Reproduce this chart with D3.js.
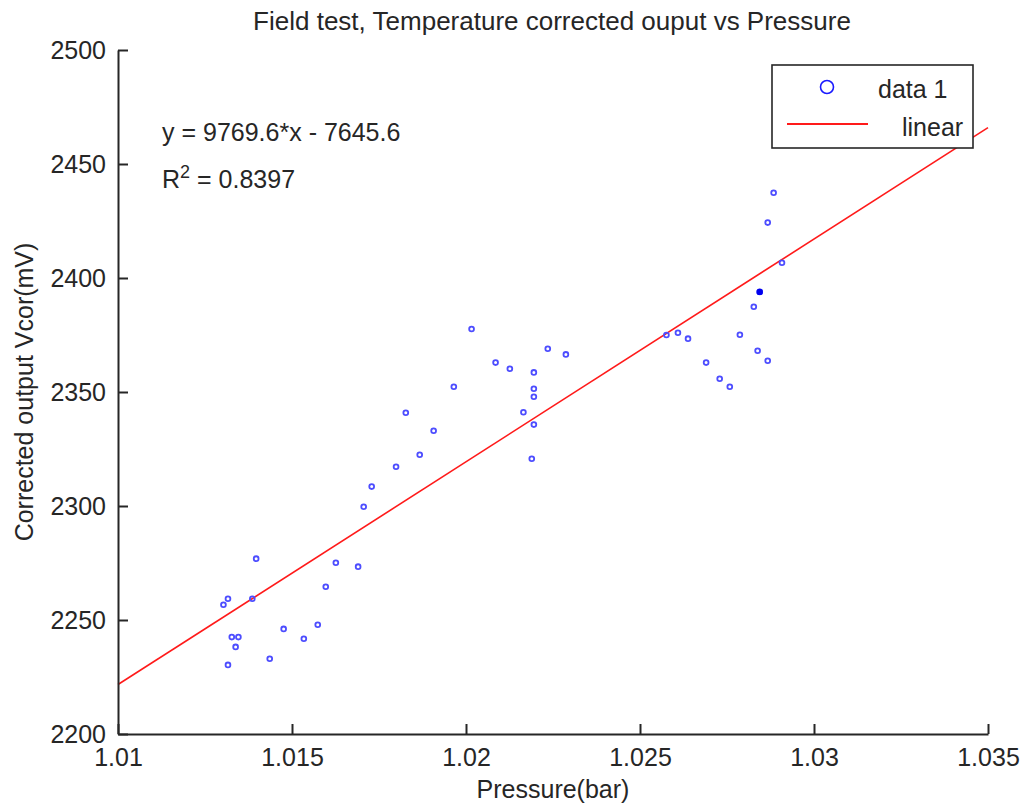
<!DOCTYPE html>
<html>
<head>
<meta charset="utf-8">
<script src="https://cdn.jsdelivr.net/npm/d3@7"></script>
<style>
  body { margin: 0; background: #fff; }
  svg text { font-family: "Liberation Sans", Arial, Helvetica, sans-serif; fill: #262626; }
</style>
</head>
<body>
<svg id="chart"></svg>
<script>
// datos
const presion = [
  1.01397, 1.01626, 1.01690, 1.01597, 1.01316, 1.01303, 1.01386, 1.01476, 1.01574, 1.01534,
  1.01327, 1.01346, 1.01338, 1.01436, 1.01316,
  1.01965, 1.01827, 1.01907, 1.01867, 1.01799, 1.01729, 1.01706,
  1.02016, 1.02235, 1.02287, 1.02085, 1.02126, 1.02195, 1.02195, 1.02195, 1.02165, 1.02195, 1.02189,
  1.02884, 1.02867, 1.02908, 1.02844, 1.02827, 1.02576, 1.02609, 1.02638, 1.02787, 1.02838, 1.02867,
  1.02690, 1.02729, 1.02758
];
const vcor = [
  2276.9, 2275.1, 2273.4, 2264.6, 2259.3, 2256.7, 2259.3, 2246.1, 2247.9, 2241.8,
  2242.5, 2242.5, 2238.2, 2233.0, 2230.3,
  2352.3, 2340.9, 2333.0, 2322.5, 2317.2, 2308.5, 2299.7,
  2377.6, 2369.0, 2366.5, 2362.9, 2360.2, 2358.6, 2351.4, 2347.9, 2341.1, 2335.7, 2320.7,
  2437.4, 2424.3, 2406.7, 2393.9, 2387.4, 2375.0, 2376.0, 2373.4, 2375.1, 2368.1, 2363.7,
  2362.9, 2355.8, 2352.3
];
// punto marcado mas oscuro (solapado)
const puntoSolido = [1.02844, 2393.9];

// ajuste lineal
const pendiente = 9769.6;
const intercepto = -7645.6;
const r2 = 0.8397;

const xTicks = [1.01, 1.015, 1.02, 1.025, 1.03, 1.035];
const yTicks = [2200, 2250, 2300, 2350, 2400, 2450, 2500];

const titulo = "Field test, Temperature corrected ouput vs Pressure";
const etiquetaX = "Pressure(bar)";
const etiquetaY = "Corrected output Vcor(mV)";
const leyenda = ["data 1", "linear"];

const ancho = 1021, alto = 808;
const margen = { top: 50, right: 33, bottom: 74, left: 118 };

const svg = d3.select('#chart')
    .attr('width', ancho)
    .attr('height', alto);

const x = d3.scaleLinear().domain([1.01, 1.035]).range([margen.left, ancho - margen.right]);
const y = d3.scaleLinear().domain([2200, 2500]).range([alto - margen.bottom, margen.top]);

/**
 * linea de regresion
 */
const lineaDatos = [1.01, 1.035].map(v => [v, pendiente * v + intercepto]);
svg.append('path')
    .datum(lineaDatos)
    .attr('fill', 'none')
    .attr('stroke', '#ff1a1a')
    .attr('stroke-width', 1.6)
    .attr('d', d3.line().x(d => x(d[0])).y(d => y(d[1])));

/**
 * puntos
 */
const puntos = presion.map((p, i) => ({ p: p, v: vcor[i] }));
svg.append('g')
    .selectAll('circle')
    .data(puntos)
    .join('circle')
    .attr('cx', d => x(d.p))
    .attr('cy', d => y(d.v))
    .attr('r', 2.4)
    .attr('fill', 'none')
    .attr('stroke', '#4d4dff')
    .attr('stroke-width', 1.8);

svg.append('circle')
    .attr('cx', x(puntoSolido[0]))
    .attr('cy', y(puntoSolido[1]))
    .attr('r', 3.2)
    .attr('fill', '#0000ee');

/**
 * ejes
 */
const ejeX = svg.append('g')
    .attr('transform', `translate(0,${alto - margen.bottom})`)
    .call(d3.axisBottom(x).tickValues(xTicks).tickSizeInner(-10).tickSizeOuter(0).tickPadding(14)
        .tickFormat(d => String(+d.toFixed(3))));

const ejeY = svg.append('g')
    .attr('transform', `translate(${margen.left},0)`)
    .call(d3.axisLeft(y).tickValues(yTicks).tickSizeInner(-10).tickSizeOuter(0).tickPadding(12)
        .tickFormat(d3.format('d')));

[ejeX, ejeY].forEach(eje => {
    eje.select('.domain').attr('stroke', '#262626').attr('stroke-width', 2);
    eje.selectAll('.tick line').attr('stroke', '#262626').attr('stroke-width', 2);
    eje.selectAll('.tick text')
        .attr('fill', '#262626')
        .style('font-size', '25px');
});
ejeX.selectAll('.tick text').attr('dy', '0.71em');
ejeY.selectAll('.tick text').attr('dy', '0.35em');

/**
 * textos
 */
svg.append('text')
    .attr('x', 552)
    .attr('y', 30)
    .attr('text-anchor', 'middle')
    .style('font-size', '26px')
    .text(titulo);

svg.append('text')
    .attr('x', (margen.left + ancho - margen.right) / 2)
    .attr('y', 798)
    .attr('text-anchor', 'middle')
    .style('font-size', '25px')
    .text(etiquetaX);

svg.append('text')
    .attr('transform', `translate(33,${(margen.top + alto - margen.bottom) / 2}) rotate(-90)`)
    .attr('text-anchor', 'middle')
    .style('font-size', '25px')
    .text(etiquetaY);

svg.append('text')
    .attr('x', 162)
    .attr('y', 141)
    .style('font-size', '25px')
    .text(`y = ${pendiente}*x - ${Math.abs(intercepto)}`);

const textoR = svg.append('text')
    .attr('x', 162)
    .attr('y', 188)
    .style('font-size', '25px');
textoR.append('tspan').text('R');
textoR.append('tspan').attr('dy', -10).style('font-size', '18px').text('2');
textoR.append('tspan').attr('dy', 10).text(` = ${r2}`);

/**
 * leyenda
 */
const ley = svg.append('g');
ley.append('rect')
    .attr('x', 772).attr('y', 65)
    .attr('width', 201).attr('height', 83)
    .attr('fill', '#fff')
    .attr('stroke', '#262626')
    .attr('stroke-width', 1.6);
ley.append('circle')
    .attr('cx', 827).attr('cy', 87)
    .attr('r', 6.5)
    .attr('fill', 'none')
    .attr('stroke', '#1a1aff')
    .attr('stroke-width', 1.6);
ley.append('text')
    .attr('x', 878).attr('y', 98)
    .style('font-size', '25px')
    .text(leyenda[0]);
ley.append('line')
    .attr('x1', 787).attr('x2', 868)
    .attr('y1', 124).attr('y2', 124)
    .attr('stroke', '#ff1a1a')
    .attr('stroke-width', 1.8);
ley.append('text')
    .attr('x', 902).attr('y', 136)
    .style('font-size', '25px')
    .text(leyenda[1]);
</script>
</body>
</html>
